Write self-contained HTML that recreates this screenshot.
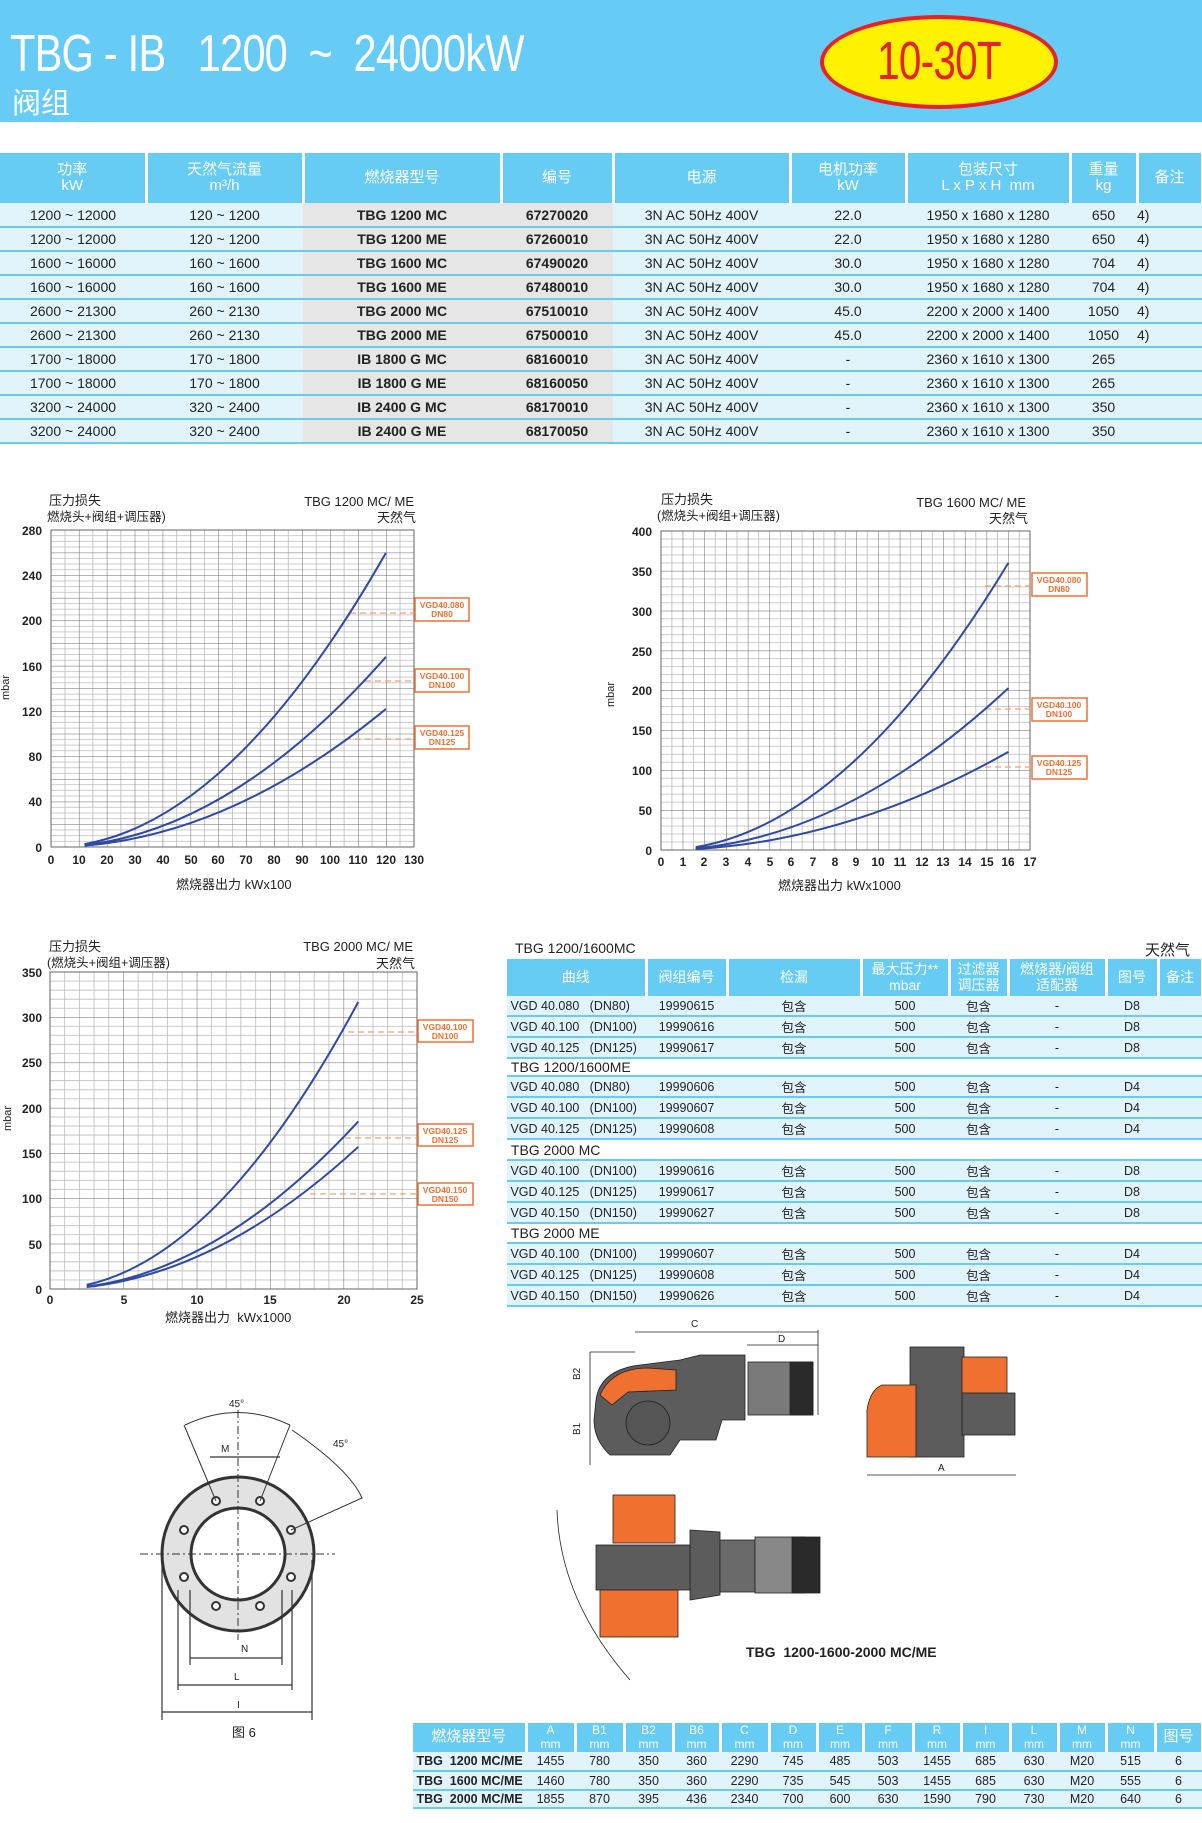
<!DOCTYPE html>
<html><head><meta charset="utf-8">
<style>
*{margin:0;padding:0;box-sizing:border-box}
body{width:1202px;height:1823px;position:relative;background:#fff;font-family:"Liberation Sans Narrow","Liberation Sans","Noto Sans CJK SC",sans-serif;overflow:hidden}
.abs{position:absolute}
table{border-collapse:collapse;table-layout:fixed;position:absolute}
td{text-align:center;white-space:nowrap;overflow:hidden;color:#222}
.hd td{background:#66ccf3;color:#fff;border-right:3px solid #fff;line-height:1.1}
.r td{background:#e1f4fc;border-bottom:2px solid #66ccf3}
</style></head><body>
<div class="abs" style="left:0;top:0;width:1202px;height:122px;background:#66ccf5"></div>
<div class="abs" style="left:10px;top:24px;color:#fff;font-size:52px;font-family:'Liberation Sans',sans-serif;letter-spacing:-1px;transform:scaleX(0.8);transform-origin:0 0;white-space:nowrap">TBG - IB &nbsp; 1200 &nbsp;~ &nbsp;24000kW</div>
<div class="abs" style="left:12px;top:80px;color:#fff;font-size:29px;font-family:'Liberation Sans','Noto Sans CJK SC',sans-serif">阀组</div>
<div class="abs" style="left:820px;top:15px;width:238px;height:94px;border-radius:50%;background:#fff200;border:4px solid #e8202a"></div>
<div class="abs" style="left:820px;top:30px;width:238px;text-align:center;color:#e8202a;font-size:54px;font-family:'Liberation Sans',sans-serif;transform:scaleX(0.75);letter-spacing:-1px">10-30T</div>

<table style="left:0;top:153px;width:1202px;font-size:14px">
<colgroup><col style="width:146px"><col style="width:157px"><col style="width:198px"><col style="width:112px"><col style="width:177px"><col style="width:116px"><col style="width:164px"><col style="width:67px"><col style="width:65px"></colgroup>
<tr class="hd" style="height:50px;font-size:15px"><td>功率<br>kW</td><td>天然气流量<br>m³/h</td><td>燃烧器型号</td><td>编号</td><td>电源</td><td>电机功率<br>kW</td><td>包装尺寸<br>L x P x H &nbsp;mm</td><td>重量<br>kg</td><td>备注</td></tr>
<tr class="r" style="height:24px"><td>1200 ~ 12000</td><td>120 ~ 1200</td><td style="background:#e6e6e6;font-weight:bold">TBG 1200 MC</td><td style="background:#e6e6e6;font-weight:bold">67270020</td><td>3N AC 50Hz 400V</td><td>22.0</td><td>1950 x 1680 x 1280</td><td>650</td><td style="text-align:left">4)</td></tr>
<tr class="r" style="height:24px"><td>1200 ~ 12000</td><td>120 ~ 1200</td><td style="background:#e6e6e6;font-weight:bold">TBG 1200 ME</td><td style="background:#e6e6e6;font-weight:bold">67260010</td><td>3N AC 50Hz 400V</td><td>22.0</td><td>1950 x 1680 x 1280</td><td>650</td><td style="text-align:left">4)</td></tr>
<tr class="r" style="height:24px"><td>1600 ~ 16000</td><td>160 ~ 1600</td><td style="background:#e6e6e6;font-weight:bold">TBG 1600 MC</td><td style="background:#e6e6e6;font-weight:bold">67490020</td><td>3N AC 50Hz 400V</td><td>30.0</td><td>1950 x 1680 x 1280</td><td>704</td><td style="text-align:left">4)</td></tr>
<tr class="r" style="height:24px"><td>1600 ~ 16000</td><td>160 ~ 1600</td><td style="background:#e6e6e6;font-weight:bold">TBG 1600 ME</td><td style="background:#e6e6e6;font-weight:bold">67480010</td><td>3N AC 50Hz 400V</td><td>30.0</td><td>1950 x 1680 x 1280</td><td>704</td><td style="text-align:left">4)</td></tr>
<tr class="r" style="height:24px"><td>2600 ~ 21300</td><td>260 ~ 2130</td><td style="background:#e6e6e6;font-weight:bold">TBG 2000 MC</td><td style="background:#e6e6e6;font-weight:bold">67510010</td><td>3N AC 50Hz 400V</td><td>45.0</td><td>2200 x 2000 x 1400</td><td>1050</td><td style="text-align:left">4)</td></tr>
<tr class="r" style="height:24px"><td>2600 ~ 21300</td><td>260 ~ 2130</td><td style="background:#e6e6e6;font-weight:bold">TBG 2000 ME</td><td style="background:#e6e6e6;font-weight:bold">67500010</td><td>3N AC 50Hz 400V</td><td>45.0</td><td>2200 x 2000 x 1400</td><td>1050</td><td style="text-align:left">4)</td></tr>
<tr class="r" style="height:24px"><td>1700 ~ 18000</td><td>170 ~ 1800</td><td style="background:#e6e6e6;font-weight:bold">IB 1800 G MC</td><td style="background:#e6e6e6;font-weight:bold">68160010</td><td>3N AC 50Hz 400V</td><td>-</td><td>2360 x 1610 x 1300</td><td>265</td><td></td></tr>
<tr class="r" style="height:24px"><td>1700 ~ 18000</td><td>170 ~ 1800</td><td style="background:#e6e6e6;font-weight:bold">IB 1800 G ME</td><td style="background:#e6e6e6;font-weight:bold">68160050</td><td>3N AC 50Hz 400V</td><td>-</td><td>2360 x 1610 x 1300</td><td>265</td><td></td></tr>
<tr class="r" style="height:24px"><td>3200 ~ 24000</td><td>320 ~ 2400</td><td style="background:#e6e6e6;font-weight:bold">IB 2400 G MC</td><td style="background:#e6e6e6;font-weight:bold">68170010</td><td>3N AC 50Hz 400V</td><td>-</td><td>2360 x 1610 x 1300</td><td>350</td><td></td></tr>
<tr class="r" style="height:24px"><td>3200 ~ 24000</td><td>320 ~ 2400</td><td style="background:#e6e6e6;font-weight:bold">IB 2400 G ME</td><td style="background:#e6e6e6;font-weight:bold">68170050</td><td>3N AC 50Hz 400V</td><td>-</td><td>2360 x 1610 x 1300</td><td>350</td><td></td></tr>
</table>

<svg class="abs" style="left:0;top:0" width="1202" height="1823" font-family="Liberation Sans, Noto Sans CJK SC, sans-serif">
<defs>
<pattern id="g1" x="51" y="530" width="27.92" height="22.64" patternUnits="userSpaceOnUse">
<path d="M13.96 0V22.64M0 5.66H27.92M0 11.32H27.92M0 16.98H27.92" stroke="#bbb" stroke-width="0.8" fill="none"/>
<path d="M0 0V22.64M0 0H27.92" stroke="#666" stroke-width="1" fill="none"/></pattern>
<pattern id="g2" x="661" y="531" width="21.71" height="39.875" patternUnits="userSpaceOnUse">
<path d="M10.85 0V40M0 7.975H22M0 15.95H22M0 23.925H22M0 31.9H22" stroke="#bbb" stroke-width="0.8" fill="none"/>
<path d="M0 0V40M0 0H22" stroke="#666" stroke-width="1" fill="none"/></pattern>
<pattern id="g3" x="50" y="972" width="73.4" height="45.29" patternUnits="userSpaceOnUse">
<path d="M14.68 0V46M29.36 0V46M44.04 0V46M58.72 0V46M0 9.06H74M0 18.12H74M0 27.17H74M0 36.23H74" stroke="#bbb" stroke-width="0.8" fill="none"/>
<path d="M0 0V46M0 0H74" stroke="#666" stroke-width="1" fill="none"/></pattern>
</defs>
<rect x="51" y="530" width="363" height="317" fill="url(#g1)" stroke="#666"/>
<rect x="661" y="531" width="369" height="319" fill="url(#g2)" stroke="#666"/>
<rect x="50" y="972" width="367" height="317" fill="url(#g3)" stroke="#666"/>
<g fill="none" stroke="#f5a070" stroke-dasharray="6,4" stroke-width="1.3"><path d="M350 613H415M365 681H415M345 739H415"/><path d="M985 586H1030M985 709H1030M985 767H1030"/><path d="M348 1032H417M345 1138H417M310 1194H417"/></g>
<g fill="none" stroke="#2e49a6" stroke-width="2">
<path d="M84.5 844.1Q235.3 817.6 386 552.7"/><path d="M84.5 845.1Q235.3 828 386 656.8"/><path d="M84.5 845.6Q235.3 833.2 386 708.9"/>
<path d="M695.7 847.1Q852 821.3 1008.4 562.9"/><path d="M695.7 848.4Q852 833.8 1008.4 688.1"/><path d="M695.7 849Q852 840.2 1008.4 751.9"/>
<path d="M86.7 1284.9Q222.5 1254.9 358.3 1001.9"/><path d="M86.7 1286.6Q222.5 1269.1 358.3 1121.4"/><path d="M86.7 1287Q222.5 1272.1 358.3 1146.8"/>
</g>
<g font-size="12" fill="#222" font-weight="bold" text-anchor="end">
<text x="42" y="535">280</text><text x="42" y="580">240</text><text x="42" y="625">200</text><text x="42" y="671">160</text><text x="42" y="716">120</text><text x="42" y="761">80</text><text x="42" y="806">40</text><text x="42" y="852">0</text>
<text x="652" y="536">400</text><text x="652" y="576">350</text><text x="652" y="616">300</text><text x="652" y="656">250</text><text x="652" y="695">200</text><text x="652" y="735">150</text><text x="652" y="775">100</text><text x="652" y="815">50</text><text x="652" y="855">0</text>
<text x="42" y="977">350</text><text x="42" y="1022">300</text><text x="42" y="1067">250</text><text x="42" y="1113">200</text><text x="42" y="1158">150</text><text x="42" y="1203">100</text><text x="42" y="1249">50</text><text x="42" y="1294">0</text>
</g>
<g font-size="12" fill="#222" font-weight="bold" text-anchor="middle">
<text x="51" y="864">0</text><text x="79" y="864">10</text><text x="107" y="864">20</text><text x="135" y="864">30</text><text x="163" y="864">40</text><text x="191" y="864">50</text><text x="218" y="864">60</text><text x="246" y="864">70</text><text x="274" y="864">80</text><text x="302" y="864">90</text><text x="330" y="864">100</text><text x="358" y="864">110</text><text x="386" y="864">120</text><text x="414" y="864">130</text>
<text x="661" y="866">0</text><text x="683" y="866">1</text><text x="704" y="866">2</text><text x="726" y="866">3</text><text x="748" y="866">4</text><text x="770" y="866">5</text><text x="791" y="866">6</text><text x="813" y="866">7</text><text x="835" y="866">8</text><text x="856" y="866">9</text><text x="878" y="866">10</text><text x="900" y="866">11</text><text x="922" y="866">12</text><text x="943" y="866">13</text><text x="965" y="866">14</text><text x="987" y="866">15</text><text x="1008" y="866">16</text><text x="1030" y="866">17</text>
<text x="50" y="1304">0</text><text x="124" y="1304">5</text><text x="197" y="1304">10</text><text x="270" y="1304">15</text><text x="344" y="1304">20</text><text x="417" y="1304">25</text>
</g>
<g fill="#fff" stroke="#f07030" stroke-width="1.5">
<rect x="415" y="598" width="54" height="23"/><rect x="415" y="669" width="54" height="23"/><rect x="415" y="726" width="54" height="23"/>
<rect x="1032" y="573" width="55" height="23"/><rect x="1032" y="698" width="55" height="23"/><rect x="1032" y="756" width="55" height="23"/>
<rect x="418" y="1020" width="55" height="22"/><rect x="418" y="1124" width="55" height="22"/><rect x="418" y="1183" width="55" height="22"/>
</g>
<g fill="#f07030" font-size="8.5" font-weight="bold" text-anchor="middle">
<text x="442" y="608">VGD40.080</text><text x="442" y="617">DN80</text>
<text x="442" y="679">VGD40.100</text><text x="442" y="688">DN100</text>
<text x="442" y="736">VGD40.125</text><text x="442" y="745">DN125</text>
<text x="1059" y="583">VGD40.080</text><text x="1059" y="592">DN80</text>
<text x="1059" y="708">VGD40.100</text><text x="1059" y="717">DN100</text>
<text x="1059" y="766">VGD40.125</text><text x="1059" y="775">DN125</text>
<text x="445" y="1030">VGD40.100</text><text x="445" y="1039">DN100</text>
<text x="445" y="1134">VGD40.125</text><text x="445" y="1143">DN125</text>
<text x="445" y="1193">VGD40.150</text><text x="445" y="1202">DN150</text>
</g>
<g font-size="13" fill="#222">
<text x="49" y="505">压力损失</text><text x="47" y="521" font-size="12.5">燃烧头+阀组+调压器)</text>
<text x="414" y="506" text-anchor="end">TBG 1200 MC/ ME</text><text x="416" y="522" text-anchor="end">天然气</text>
<text x="661" y="504">压力损失</text><text x="657" y="520" font-size="12.5">(燃烧头+阀组+调压器)</text>
<text x="1026" y="507" text-anchor="end">TBG 1600 MC/ ME</text><text x="1028" y="523" text-anchor="end">天然气</text>
<text x="49" y="951">压力损失</text><text x="47" y="967" font-size="12.5">(燃烧头+阀组+调压器)</text>
<text x="413" y="951" text-anchor="end">TBG 2000 MC/ ME</text><text x="415" y="968" text-anchor="end">天然气</text>
<text x="176" y="889">燃烧器出力 kWx100</text><text x="778" y="890">燃烧器出力 kWx1000</text><text x="165" y="1322">燃烧器出力 &nbsp;kWx1000</text>
<text transform="translate(9,700) rotate(-90)" font-size="11">mbar</text>
<text transform="translate(614,707) rotate(-90)" font-size="11">mbar</text>
<text transform="translate(11,1131) rotate(-90)" font-size="11">mbar</text>
<text x="232" y="1737">图 6</text>
<text x="746" y="1657" font-weight="bold" font-size="14">TBG &nbsp;1200-1600-2000 MC/ME</text>
</g>
<g stroke="#333" fill="none">
<ellipse cx="238" cy="1554" rx="76" ry="77" fill="#e2e2e2" stroke-width="3"/>
<ellipse cx="238" cy="1554" rx="47" ry="46" fill="#fff" stroke-width="3"/>
<path d="M140 1554H335M238 1410V1640" stroke-dasharray="8,3,2,3" stroke-width="1"/>
<g fill="#fff" stroke-width="2"><circle cx="216" cy="1501" r="4"/><circle cx="260" cy="1501" r="4"/><circle cx="184" cy="1530" r="4"/><circle cx="291" cy="1530" r="4"/><circle cx="184" cy="1577" r="4"/><circle cx="291" cy="1577" r="4"/><circle cx="216" cy="1606" r="4"/><circle cx="260" cy="1606" r="4"/></g>
<path d="M184 1425L216 1501M290 1425L260 1501M185 1425Q238 1400 290 1425M292 1430Q350 1470 362 1498L291 1530" stroke-width="1"/>
<path d="M190 1658H282M178 1685H292M162 1712H312M190 1590V1665M282 1590V1665M178 1590V1690M292 1590V1690M162 1560V1720M312 1560V1720M210 1457H280" stroke-width="1.2"/>
</g>
<g font-size="10" fill="#222"><text x="229" y="1407">45°</text><text x="221" y="1452">M</text><text x="241" y="1652">N</text><text x="234" y="1680">L</text><text x="237" y="1708">I</text><text x="333" y="1447">45°</text></g>
<g stroke="#222" stroke-width="0.8">
<path d="M590 1352H635M635 1332H818M747 1345H818M590 1352V1465M818 1330V1415" fill="none"/>
<path d="M596 1400Q600 1370 640 1365L680 1360L700 1355H745V1420H722L716 1440H680L670 1455H610Q594 1440 594 1420Z" fill="#5c5c5c"/>
<path d="M600 1395Q612 1368 648 1368L676 1370V1390L628 1392Q618 1400 612 1405Z" fill="#f07030"/>
<circle cx="648" cy="1423" r="22" fill="#555"/>
<rect x="748" y="1362" width="65" height="53" fill="#7a7a7a"/>
<rect x="790" y="1362" width="23" height="53" fill="#2a2a2a"/>
</g>
<g font-size="10" fill="#222"><text x="691" y="1327">C</text><text x="778" y="1342">D</text><text x="580" y="1380" transform="rotate(-90 580 1380)">B2</text><text x="580" y="1435" transform="rotate(-90 580 1435)">B1</text></g>
<g stroke="#222" stroke-width="0.8">
<rect x="910" y="1347" width="54" height="110" fill="#5c5c5c"/>
<rect x="962" y="1357" width="45" height="39" fill="#f07030"/>
<rect x="962" y="1393" width="53" height="42" fill="#5c5c5c"/>
<path d="M882 1385H916V1457H867V1410Q870 1390 882 1385Z" fill="#f07030"/>
<path d="M867 1475H1016" fill="none"/>
</g>
<text x="938" y="1471" font-size="10" fill="#222">A</text>
<g stroke="#222" stroke-width="0.8">
<rect x="613" y="1495" width="62" height="48" fill="#f07030"/>
<rect x="596" y="1545" width="104" height="45" fill="#5c5c5c"/>
<path d="M690 1530L720 1532V1595L690 1600Z" fill="#5c5c5c"/>
<rect x="720" y="1540" width="35" height="52" fill="#6a6a6a"/>
<rect x="755" y="1537" width="50" height="56" fill="#888"/>
<rect x="792" y="1537" width="28" height="56" fill="#2a2a2a"/>
<rect x="600" y="1590" width="78" height="47" fill="#f07030"/>
<path d="M557 1510Q560 1600 630 1680" fill="none"/>
</g>
</svg>

<div class="abs" style="left:515px;top:940px;font-size:14px;color:#222">TBG 1200/1600MC</div>
<div class="abs" style="left:1145px;top:939px;font-size:15px;color:#222;font-family:'Liberation Sans','Noto Sans CJK SC',sans-serif">天然气</div>
<table style="left:507px;top:959px;width:695px;font-size:12.5px">
<colgroup><col style="width:139px"><col style="width:81px"><col style="width:134px"><col style="width:88px"><col style="width:59px"><col style="width:98px"><col style="width:52px"><col style="width:44px"></colgroup>
<tr class="hd" style="height:37px;font-size:14px"><td>曲线</td><td>阀组编号</td><td>检漏</td><td>最大压力**<br>mbar</td><td>过滤器<br>调压器</td><td>燃烧器/阀组<br>适配器</td><td>图号</td><td>备注</td></tr>
<tr class="r" style="height:18px"><td style="text-align:left">&nbsp;VGD 40.080 &nbsp;&nbsp;(DN80)</td><td>19990615</td><td>包含</td><td>500</td><td>包含</td><td>-</td><td>D8</td><td></td></tr>
<tr class="r" style="height:18px"><td style="text-align:left">&nbsp;VGD 40.100 &nbsp;&nbsp;(DN100)</td><td>19990616</td><td>包含</td><td>500</td><td>包含</td><td>-</td><td>D8</td><td></td></tr>
<tr class="r" style="height:19px"><td style="text-align:left">&nbsp;VGD 40.125 &nbsp;&nbsp;(DN125)</td><td>19990617</td><td>包含</td><td>500</td><td>包含</td><td>-</td><td>D8</td><td></td></tr>
<tr style="height:18px"><td colspan="8" style="text-align:left;font-size:14px;border-bottom:2px solid #66ccf3">&nbsp;TBG 1200/1600ME</td></tr>
<tr class="r" style="height:18px"><td style="text-align:left">&nbsp;VGD 40.080 &nbsp;&nbsp;(DN80)</td><td>19990606</td><td>包含</td><td>500</td><td>包含</td><td>-</td><td>D4</td><td></td></tr>
<tr class="r" style="height:18px"><td style="text-align:left">&nbsp;VGD 40.100 &nbsp;&nbsp;(DN100)</td><td>19990607</td><td>包含</td><td>500</td><td>包含</td><td>-</td><td>D4</td><td></td></tr>
<tr class="r" style="height:19px"><td style="text-align:left">&nbsp;VGD 40.125 &nbsp;&nbsp;(DN125)</td><td>19990608</td><td>包含</td><td>500</td><td>包含</td><td>-</td><td>D4</td><td></td></tr>
<tr style="height:21px"><td colspan="8" style="text-align:left;font-size:14px;border-bottom:2px solid #66ccf3">&nbsp;TBG 2000 MC</td></tr>
<tr class="r" style="height:18px"><td style="text-align:left">&nbsp;VGD 40.100 &nbsp;&nbsp;(DN100)</td><td>19990616</td><td>包含</td><td>500</td><td>包含</td><td>-</td><td>D8</td><td></td></tr>
<tr class="r" style="height:18px"><td style="text-align:left">&nbsp;VGD 40.125 &nbsp;&nbsp;(DN125)</td><td>19990617</td><td>包含</td><td>500</td><td>包含</td><td>-</td><td>D8</td><td></td></tr>
<tr class="r" style="height:19px"><td style="text-align:left">&nbsp;VGD 40.150 &nbsp;&nbsp;(DN150)</td><td>19990627</td><td>包含</td><td>500</td><td>包含</td><td>-</td><td>D8</td><td></td></tr>
<tr style="height:20px"><td colspan="8" style="text-align:left;font-size:14px;border-bottom:2px solid #66ccf3">&nbsp;TBG 2000 ME</td></tr>
<tr class="r" style="height:18px"><td style="text-align:left">&nbsp;VGD 40.100 &nbsp;&nbsp;(DN100)</td><td>19990607</td><td>包含</td><td>500</td><td>包含</td><td>-</td><td>D4</td><td></td></tr>
<tr class="r" style="height:18px"><td style="text-align:left">&nbsp;VGD 40.125 &nbsp;&nbsp;(DN125)</td><td>19990608</td><td>包含</td><td>500</td><td>包含</td><td>-</td><td>D4</td><td></td></tr>
<tr class="r" style="height:19px"><td style="text-align:left">&nbsp;VGD 40.150 &nbsp;&nbsp;(DN150)</td><td>19990626</td><td>包含</td><td>500</td><td>包含</td><td>-</td><td>D4</td><td></td></tr>
</table>

<table style="left:413px;top:1723px;width:789px;font-size:12.5px">
<colgroup><col style="width:113px"><col style="width:49px"><col style="width:49px"><col style="width:49px"><col style="width:47px"><col style="width:49px"><col style="width:48px"><col style="width:46px"><col style="width:50px"><col style="width:48px"><col style="width:49px"><col style="width:48px"><col style="width:48px"><col style="width:49px"><col style="width:47px"></colgroup>
<tr class="hd" style="height:29px;font-size:12px"><td style="font-size:15px">燃烧器型号</td><td>A<br>mm</td><td>B1<br>mm</td><td>B2<br>mm</td><td>B6<br>mm</td><td>C<br>mm</td><td>D<br>mm</td><td>E<br>mm</td><td>F<br>mm</td><td>R<br>mm</td><td>I<br>mm</td><td>L<br>mm</td><td>M<br>mm</td><td>N<br>mm</td><td style="font-size:15px">图号</td></tr>
<tr class="r" style="height:19px"><td style="font-weight:bold;text-align:left">&nbsp;TBG &nbsp;1200 MC/ME</td><td>1455</td><td>780</td><td>350</td><td>360</td><td>2290</td><td>745</td><td>485</td><td>503</td><td>1455</td><td>685</td><td>630</td><td>M20</td><td>515</td><td>6</td></tr>
<tr class="r" style="height:19px"><td style="font-weight:bold;text-align:left">&nbsp;TBG &nbsp;1600 MC/ME</td><td>1460</td><td>780</td><td>350</td><td>360</td><td>2290</td><td>735</td><td>545</td><td>503</td><td>1455</td><td>685</td><td>630</td><td>M20</td><td>555</td><td>6</td></tr>
<tr class="r" style="height:18px"><td style="font-weight:bold;text-align:left">&nbsp;TBG &nbsp;2000 MC/ME</td><td>1855</td><td>870</td><td>395</td><td>436</td><td>2340</td><td>700</td><td>600</td><td>630</td><td>1590</td><td>790</td><td>730</td><td>M20</td><td>640</td><td>6</td></tr>
</table>
</body></html>
